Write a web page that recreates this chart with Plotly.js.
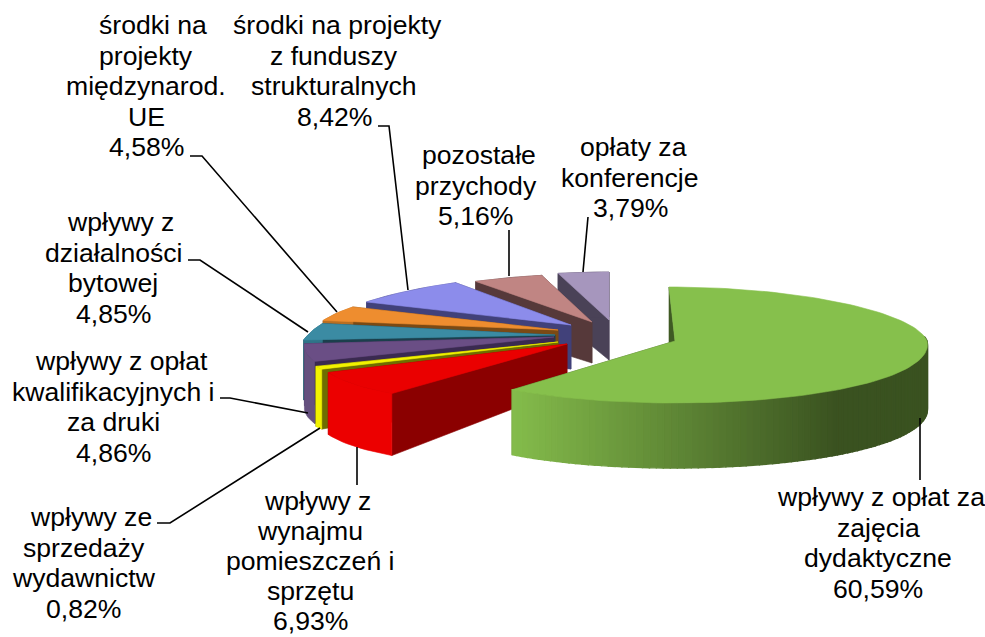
<!DOCTYPE html>
<html><head><meta charset="utf-8">
<script src="https://cdn.plot.ly/plotly-3.0.1.min.js"></script>
<style>html,body{margin:0;padding:0;background:#fff}</style></head>
<body><div id="chart" style="width:985px;height:637px"></div>
<script>
// Data (clockwise from the top of the pie)
const categories = [
  "wpływy z opłat za<br>zajęcia<br>dydaktyczne",
  "wpływy z<br>wynajmu<br>pomieszczeń i<br>sprzętu",
  "wpływy ze<br>sprzedaży<br>wydawnictw",
  "wpływy z opłat<br>kwalifikacyjnych i<br>za druki",
  "wpływy z<br>działalności<br>bytowej",
  "środki na<br>projekty<br>międzynarod.<br>UE",
  "środki na projekty<br>z funduszy<br>strukturalnych",
  "pozostałe<br>przychody",
  "opłaty za<br>konferencje"
];
const values = [60.59, 6.93, 0.82, 4.86, 4.85, 4.58, 8.42, 5.16, 3.79];

// Styles
const topColors = ["#86C04C","#EA0000","#F2F200","#6A4E85","#3B8BA3","#EE8D2F","#8C8CEB","#C08583","#A696BD"];
const rimColors = ["#84BC4B","#EC0000","#F2F200","#65507F","#2F7488","#B86E22","#41417A","#56393A","#4A4257"];
const rimEndColors = ["#3A5220","#EC0000","#F2F200","#65507F","#2F7488","#B86E22","#41417A","#56393A","#4A4257"];
const cutColors = ["#3F5A24","#8B0000","#6E6E00","#3A2A50","#1B3F4C","#7A4A15","#41417A","#56393A","#4A4257"];

// Oblique projection and explosion of every slice (pixels on the 1:1 axes)
const geometry = [
  {ax:675,ay:341,rx:252,taper:15,ryB:54,ryF:62,hA:42,hR:65,skew:-6},
  {ax:567,ay:344,rx:246,taper:48,ryB:63,ryF:63,hA:44,hR:62},
  {ax:558,ay:342,rx:265,taper:0,ryB:60,ryF:60,hA:44,hR:60},
  {ax:554,ay:337,rx:247,taper:37,ryB:58,ryF:60,hA:44,hR:62},
  {ax:555,ay:335,rx:247,taper:53,ryB:60,ryF:44,hA:44,hR:60},
  {ax:558,ay:330,rx:245,taper:30,ryB:50,ryF:53,hA:44,hR:55},
  {ax:571,ay:325,rx:247,taper:36,ryB:50,ryF:50,hA:44,hR:50},
  {ax:592,ay:322,rx:252,taper:40,ryB:48,ryF:48,hA:41,hR:45},
  {ax:609,ay:320,rx:216,taper:0,ryB:48,ryF:48,hA:40,hR:45}
];
const drawOrder = [8,7,6,5,4,3,2,1,0];

const labelBoxes = [ // centre x, centre y of the first text line, shift of the first line, line step
  [878,497,2.5,30.5],[310,501,7,30],[83.5,517,7,30.5],[113,361,8,30.5],[113,222,7,30.5],
  [146,25,7,30.5],[334,25,3.5,30.5],[475.5,155,3.5,30.5],[630,147,3,30.5]
];
const leaderPaths = [
  "M920,418 L920,480",
  "M357,447 L357,485",
  "M320,428 L170,523 L157,523",
  "M308,413 L230,398 L220,398",
  "M308,332 L200,260 L188,260",
  "M337,312 L202,156 L190,156",
  "M408,290 L389,126 L378,126",
  "M509,276 L509,230",
  "M583,272 L588,217"
];

const rad = Math.PI/180;
function pt(g, deg, r){
  const s = Math.sin(deg*rad), c = Math.cos(deg*rad);
  const ry = c>0 ? g.ryB : g.ryF;
  return [g.ax + r*((g.rx - g.taper*c)*s + (g.skew||0)*Math.max(c,0)), g.ay - r*ry*c];
}
function hex(c){return [1,3,5].map(i=>parseInt(c.substr(i,2),16));}
function mix(a,b,t){
  const A=hex(a),B=hex(b);
  return "rgb("+A.map((v,i)=>Math.round(v+(B[i]-v)*t)).join(",")+")";
}
function poly(points,color,name,lw){
  const xs=points.map(p=>p[0]), ys=points.map(p=>p[1]);
  xs.push(xs[0]); ys.push(ys[0]);
  return {type:"scatter",mode:"lines",x:xs,y:ys,fill:"toself",fillcolor:color,
          line:{color:color,width:lw||0.6},hoverinfo:name?"text":"skip",text:name||"",showlegend:false};
}
function arc(g,a,b,r){
  const n=Math.max(2,Math.ceil(Math.abs(b-a)/2)), out=[];
  for(let i=0;i<=n;i++) out.push(pt(g,a+(b-a)*i/n,r));
  return out;
}
function down(p,h){return [p[0],p[1]+h];}

// cumulative angles come from the values
const total = values.reduce((a,b)=>a+b,0);
const angles=[]; let run=0;
values.forEach(v=>{angles.push([run/total*360,(run+v)/total*360]); run+=v;});

const traces=[];
drawOrder.forEach(i=>{
  const g=geometry[i], [a,b]=angles[i];
  const apex=pt(g,a,0);
  const cut=(deg)=>{const o=pt(g,deg,1);return [apex,o,down(o,g.hR),down(apex,g.hA)];};
  traces.push(poly(cut(b),cutColors[i]));
  traces.push(poly(cut(a),cutColors[i]));
  // outer wall in strips, so that it can carry the shading
  const gradient = rimColors[i]!==rimEndColors[i];
  const step = gradient ? 1.5 : (b-a);
  const xA = pt(g,b,1)[0], xB = g.ax+g.rx*0.64;
  const start = gradient ? Math.max(a,85) : a;
  for(let d=start; d<b-1e-6; d+=step){
    const e=Math.min(b,d+step);
    const top=arc(g,d,e,1), bot=top.map(p=>down(p,g.hR)).reverse();
    const mid=pt(g,(d+e)/2,1)[0];
    const t=Math.max(0,Math.min(1,(mid-xA)/(xB-xA)));
    const col=gradient?mix(rimColors[i],rimEndColors[i],t):rimColors[i];
    traces.push(poly(top.concat(bot),col,null,gradient?1.4:0.6));
  }
  traces.push(poly([apex].concat(arc(g,a,b,1)),topColors[i],
    categories[i].replace(/<br>/g," ")+": "+values[i].toFixed(2).replace(".",",")+"%"));
});

const annotations=[];
categories.forEach((c,i)=>{
  const lines=c.split("<br>").concat(values[i].toFixed(2).replace(".",",")+"%");
  lines.forEach((ln,k)=>annotations.push({
    x:labelBoxes[i][0]+(k===0?labelBoxes[i][2]:0),y:labelBoxes[i][1]+k*labelBoxes[i][3],xref:"x",yref:"y",
    xanchor:"center",yanchor:"middle",showarrow:false,align:"center",borderpad:0,text:ln
  }));
});
const shapes=leaderPaths.map(p=>({type:"path",path:p,xref:"x",yref:"y",layer:"above",
  line:{color:"#000",width:1.6}}));

Plotly.newPlot("chart",traces,{
  width:985,height:637,autosize:false,margin:{l:0,r:0,t:0,b:0},
  paper_bgcolor:"#fff",plot_bgcolor:"#fff",showlegend:false,
  font:{family:'"Liberation Sans",Arial,sans-serif',size:26.6,color:"#000"},
  xaxis:{range:[0,985],visible:false,fixedrange:true},
  yaxis:{range:[637,0],visible:false,fixedrange:true},
  annotations,shapes
},{displayModeBar:false});
</script></body></html>
